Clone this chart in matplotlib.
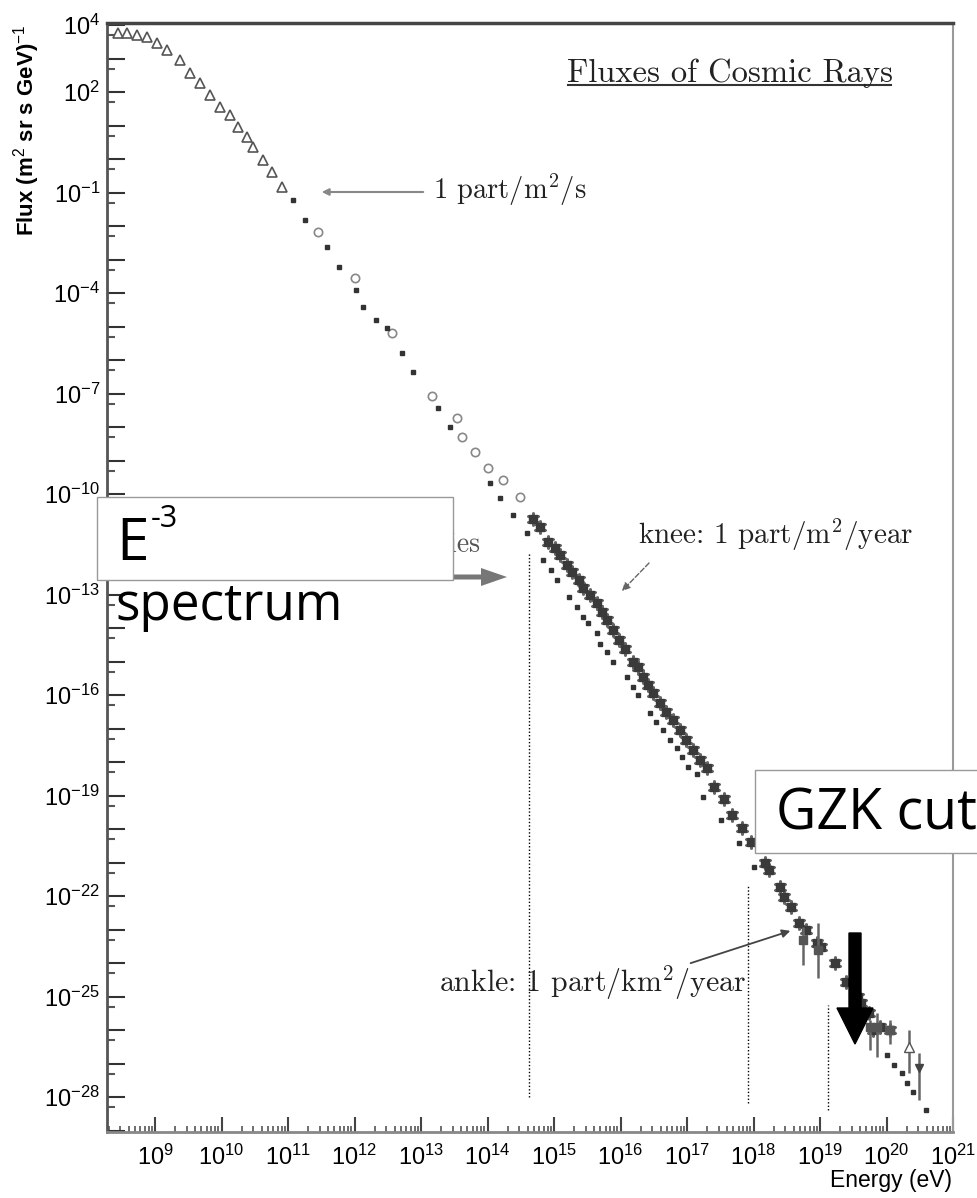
import matplotlib

matplotlib.use('agg')
import matplotlib.pyplot as plt
import numpy as np
from matplotlib.ticker import LogLocator, FuncFormatter, NullFormatter
from matplotlib.patches import Rectangle, FancyArrow
from matplotlib.lines import Line2D
from matplotlib.transforms import IdentityTransform

# --- data (log10 of energy in eV, log10 of flux) ---
tri_logE = [8.44, 8.58, 8.73, 8.88, 9.03, 9.18, 9.38, 9.53, 9.68, 9.83,
            9.98, 10.13, 10.25, 10.38, 10.47, 10.62, 10.76, 10.91]
tri_logF = [3.76, 3.76, 3.70, 3.64, 3.46, 3.25, 2.96, 2.57, 2.27, 1.91,
            1.55, 1.31, 0.96, 0.66, 0.36, -0.03, -0.39, -0.84]

open_logE = [11.45, 12.01, 12.56, 13.17, 13.54, 13.62, 13.81, 14.01, 14.23, 14.49]
open_logF = [-2.18, -3.55, -5.19, -7.07, -7.73, -8.30, -8.75, -9.22, -9.58, -10.09]

dot_logE = [11.08, 11.26, 11.59, 11.77, 12.02, 12.13, 12.32, 12.49, 12.71, 12.88,
            13.26, 13.44, 14.04, 14.19, 14.38, 14.59]
dot_logF = [-1.22, -1.82, -2.63, -3.22, -3.91, -4.42, -4.81, -5.04, -5.80, -6.35,
            -7.44, -7.99, -9.67, -10.12, -10.63, -11.16]

band_logE = [14.69, 14.79, 14.91, 15.02, 15.09, 15.19, 15.27, 15.37, 15.44, 15.54,
             15.64, 15.72, 15.79, 15.89, 15.97, 16.07, 16.19, 16.27, 16.34, 16.42,
             16.49, 16.59, 16.69, 16.79, 16.89, 16.99, 17.09, 17.20, 17.30, 17.41,
             17.55, 17.68, 17.82, 17.96, 18.17, 18.23, 18.40, 18.46, 18.56, 18.68,
             18.79, 18.95, 19.02, 19.23, 19.39, 19.57, 19.62, 19.74, 19.80, 19.90,
             20.05]
band_logF = [-10.73, -10.98, -11.42, -11.62, -11.82, -12.12, -12.32, -12.57, -12.81, -13.01,
             -13.26, -13.51, -13.76, -14.06, -14.36, -14.61, -15.01, -15.15, -15.45, -15.70,
             -15.95, -16.25, -16.50, -16.75, -17.04, -17.34, -17.64, -17.94, -18.19, -18.74,
             -19.10, -19.58, -19.98, -20.38, -21.01, -21.22, -21.73, -22.03, -22.33, -22.81,
             -23.01, -23.40, -23.52, -24.00, -24.55, -25.01, -25.19, -25.49, -26.00, -25.91,
             -26.00]

low_logE = [14.83, 14.96, 15.05, 15.22, 15.35, 15.44, 15.51, 15.65, 15.69, 15.80,
            15.89, 16.10, 16.19, 16.26, 16.44, 16.54, 16.64, 16.74, 16.85, 16.92,
            17.02, 17.15, 17.24, 17.51, 17.78, 18.01]
low_logF = [-11.97, -12.27, -12.57, -13.07, -13.37, -13.66, -13.85, -14.15, -14.46, -14.72,
            -15.01, -15.46, -15.75, -16.00, -16.54, -16.80, -17.04, -17.34, -17.58, -17.84,
            -18.15, -18.34, -19.04, -19.73, -20.42, -21.13]

uhe_logE = [20.01, 20.11, 20.23, 20.31, 20.40, 20.59]
uhe_logF = [-26.75, -27.04, -27.28, -27.58, -27.85, -28.39]

err_logE = [18.74, 18.97, 19.75, 19.86, 20.05, 20.34, 20.49]
err_logF = [-23.31, -23.60, -25.90, -25.90, -26.00, -26.51, -27.13]
err_lo = [-24.06, -24.45, -26.60, -26.81, -26.40, -27.28, -28.09]
err_hi = [-22.93, -22.81, -25.70, -25.49, -25.70, -26.00, -26.69]

# vertical dotted markers: energy, bottom, top
vline_logE = [14.62, 17.92, 19.12]
vline_lo = [-28.0, -28.18, -28.39]
vline_hi = [-11.73, -21.67, -25.25]

xtick_exp = list(range(9, 22))
ytick_exp = [4, 2, -1, -4, -7, -10, -13, -16, -19, -22, -25, -28]

W, H = 978, 1198


def fp(px, py):
    # picture pixel (top-left origin) -> figure pixels
    return (px, H - py)


plt.rcParams['mathtext.fontset'] = 'custom'
plt.rcParams['mathtext.rm'] = 'Liberation Sans'
plt.rcParams['mathtext.it'] = 'Liberation Sans:italic'
plt.rcParams['mathtext.bf'] = 'Liberation Sans:bold'
plt.rcParams['font.family'] = ['Liberation Sans', 'DejaVu Sans']

fig = plt.figure(figsize=(W / 100, H / 100), dpi=100)
ax = fig.add_axes([107 / W, 1 - 1132 / H, (953 - 107) / W, (1132 - 23) / H])
ax.set_xscale('log')
ax.set_yscale('log')
ax.set_xlim(10 ** 8.278, 10 ** 21.0)
ax.set_ylim(10 ** -29.04, 10 ** 4.06)

p = lambda v: 10 ** np.asarray(v, dtype=float)

for e, lo, hi in zip(vline_logE, vline_lo, vline_hi):
    ax.plot([10 ** e, 10 ** e], [10 ** lo, 10 ** hi], ls=(0, (1, 1.5)), color='black', lw=1)

ax.plot(p(tri_logE), p(tri_logF), ls='none', marker='^', ms=7, mfc='white', mec='#555', mew=1.2)
ax.plot(p(open_logE), p(open_logF), ls='none', marker='o', ms=6, mfc='white', mec='#888', mew=1.2)
ax.plot(p(dot_logE), p(dot_logF), ls='none', marker='s', ms=3.2, color='#333')
ax.plot(p(low_logE), p(low_logF), ls='none', marker='s', ms=3.5, color='#333')
ax.plot(p(uhe_logE), p(uhe_logF), ls='none', marker='s', ms=3.2, color='#333')
ax.plot(p(band_logE), p(band_logF), ls='none', marker=(6, 2, 0), ms=10, color='#666', mew=1.5)
ax.plot(p(band_logE), p(band_logF), ls='none', marker='s', ms=5.5, color='#3a3a3a')

ey = p(err_logF)
ax.errorbar(p(err_logE), ey, yerr=[ey - p(err_lo), p(err_hi) - ey], fmt='none',
            ecolor='#666', elinewidth=1.8)
ax.plot(p(err_logE[:5]), ey[:5], ls='none', marker='s', ms=6, color='#555')
ax.plot(p(err_logE[5:6]), ey[5:6], ls='none', marker='^', ms=7, mfc='white', mec='#555')
ax.plot(p(err_logE[6:]), ey[6:], ls='none', marker='v', ms=6, color='#444')

# axes, ticks
ax.xaxis.set_major_locator(LogLocator(base=10, numticks=40))
ax.xaxis.set_minor_locator(LogLocator(base=10, subs=np.arange(2, 10), numticks=40))
ax.yaxis.set_major_locator(LogLocator(base=10, numticks=60))
ax.yaxis.set_minor_locator(LogLocator(base=10, subs=[5.0], numticks=60))


def xfmt(v, pos):
    k = int(round(np.log10(v)))
    return r'$10^{%d}$' % k if k in xtick_exp else ''


def yfmt(v, pos):
    k = int(round(np.log10(v)))
    return r'$10^{%d}$' % k if k in ytick_exp else ''


ax.xaxis.set_major_formatter(FuncFormatter(xfmt))
ax.yaxis.set_major_formatter(FuncFormatter(yfmt))
ax.xaxis.set_minor_formatter(NullFormatter())
ax.yaxis.set_minor_formatter(NullFormatter())
ax.tick_params(axis='x', which='major', direction='in', length=11, width=1.5,
               color='#444', labelsize=17, pad=9)
ax.tick_params(axis='x', which='minor', direction='in', length=4, width=1.2, color='#555')
ax.tick_params(axis='y', which='major', direction='in', length=13, width=1.5,
               color='#333', labelsize=17, pad=5)
ax.tick_params(axis='y', which='minor', direction='in', length=6, width=1.5, color='#555')

ax.spines['top'].set_color('#444')
ax.spines['top'].set_linewidth(2.5)
ax.spines['left'].set_color('#555')
ax.spines['left'].set_linewidth(2)
ax.spines['right'].set_color('#999')
ax.spines['right'].set_linewidth(1.5)
ax.spines['bottom'].set_color('#888')
ax.spines['bottom'].set_linewidth(2)

fig.text(27 / W, 1 - 24 / H, r'Flux (m$^{2}$ sr s GeV)$^{-1}$', rotation=90,
         ha='center', va='top', fontsize=16, fontweight='bold')
fig.text(952 / W, 1 - 1180 / H, 'Energy (eV)', ha='right', va='center', fontsize=16.5)

# annotations in TeX-like serif
cm = dict(family='cmr10', math_fontfamily='cm', color='#222')
fig.text(730 / W, 1 - 73 / H, 'Fluxes of Cosmic Rays', ha='center',
         va='center', fontsize=23.5, **cm)
fig.add_artist(Line2D([568, 891], [H - 85, H - 85], transform=IdentityTransform(),
                      color='#333', lw=1.5))

fig.text(433 / W, 1 - 190 / H, r'1 part/m$^{2}$/s', ha='left', va='center',
         fontsize=20.5, **cm)
ax.annotate('', xy=fp(319, 192), xytext=fp(426, 192), xycoords='figure pixels',
            textcoords='figure pixels',
            arrowprops=dict(arrowstyle='-|>', color='#888', lw=1.5, mutation_scale=10))

fig.text(638 / W, 1 - 535 / H, r'knee: 1 part/m$^{2}$/year', ha='left',
         va='center', fontsize=21, **cm)
ax.annotate('', xy=fp(620, 593), xytext=fp(651, 561), xycoords='figure pixels',
            textcoords='figure pixels',
            arrowprops=dict(arrowstyle='-|>', color='#666', lw=1, ls='--', mutation_scale=12))

fig.text(439 / W, 1 - 983 / H, r'ankle: 1 part/km$^{2}$/year', ha='left',
         va='center', fontsize=21.5, **cm)
ax.annotate('', xy=fp(793, 930), xytext=fp(688, 964), xycoords='figure pixels',
            textcoords='figure pixels',
            arrowprops=dict(arrowstyle='-|>', color='#444', lw=1.3, mutation_scale=12))

# partly hidden label + grey arrow under the E^-3 box
fig.text(480 / W, 1 - 545 / H, 'LHC energies', ha='right', va='center',
         fontsize=20, family='cmr10', color='#555', zorder=1)
fig.add_artist(FancyArrow(380, H - 577, 127, 0, width=5, head_width=18, head_length=26,
                          length_includes_head=True, color='#777', lw=0,
                          transform=IdentityTransform(), zorder=1))

comic = ['Open Sans', 'DejaVu Sans']
fig.add_artist(Rectangle((97, H - 580), 356, 83, transform=IdentityTransform(),
                         fc='white', ec='#999', lw=1, zorder=2))
fig.text(116 / W, 1 - 560 / H, 'E', ha='left', va='baseline',
         fontsize=42, family=comic, zorder=3)
fig.text(151 / W, 1 - 527 / H, '-3', ha='left', va='baseline',
         fontsize=22, family=comic, zorder=3)
fig.text(115 / W, 1 - 620 / H, 'spectrum', ha='left', va='baseline',
         fontsize=37, family=comic, zorder=3)

fig.add_artist(Rectangle((755, H - 853), 240, 83, transform=IdentityTransform(),
                         fc='white', ec='#999', lw=1, zorder=2))
fig.text(776 / W, 1 - 830 / H, 'GZK cut', ha='left', va='baseline',
         fontsize=40, family=comic, zorder=3)

# big black arrow at the cut-off
fig.add_artist(FancyArrow(855, H - 933, 0, -(1044 - 933), width=12, head_width=36,
                          head_length=36, length_includes_head=True, color='black',
                          transform=IdentityTransform(), zorder=3))

fig.savefig('out.png', dpi=100)
